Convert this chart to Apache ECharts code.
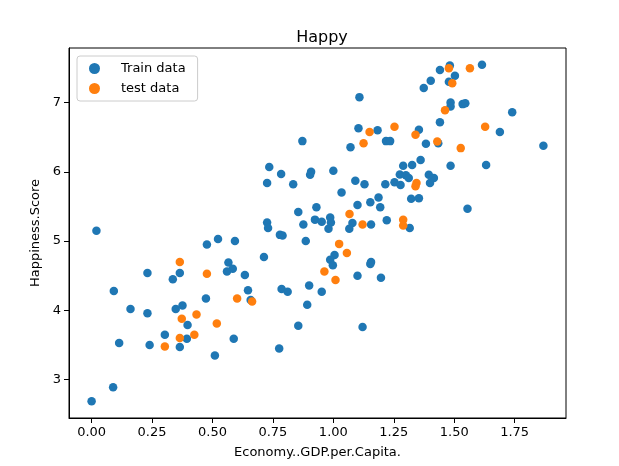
<!DOCTYPE html>
<html>
<head>
<meta charset="utf-8">
<script src="https://cdn.jsdelivr.net/npm/echarts@6/dist/echarts.min.js"></script>
<style>
html,body{margin:0;padding:0;background:#fff;}
#chart{width:619px;height:466px;}
</style>
</head>
<body>
<div id="chart"></div>
<script>
// Data
const trainGDP = [1.108,1.104,1.183,0.872,1.071,1.218,1.235,0.735,0.784,0.908,0.904,1.000,1.289,1.482,1.441,1.615,1.503,1.403,1.478,1.374,1.485,1.485,1.535,1.546,1.740,1.441,1.354,1.689,1.383,1.434,1.869,1.361,1.326,1.485,1.632,1.395,1.416,1.400,1.275,1.300,1.312,1.253,1.278,1.322,1.354,1.555,1.316,0.726,0.834,1.091,1.129,1.215,1.034,1.187,1.153,1.100,1.194,0.930,0.855,0.924,0.952,0.987,0.990,0.980,0.876,0.726,0.730,1.079,1.066,1.156,1.221,0.779,0.790,0.886,1.005,0.987,0.998,0.713,1.156,1.153,1.100,1.197,0.634,0.647,0.786,0.811,0.900,0.952,0.020,0.477,0.523,0.593,0.566,0.584,0.560,0.231,0.365,0.336,0.092,0.473,0.161,0.231,0.348,0.376,0.397,0.303,0.394,0.114,0.240,0.365,0.588,0.510,0.089,0.000,0.658,0.892,0.855,0.776,1.121];
const trainScore = [7.078,6.630,6.600,6.443,6.356,6.443,6.443,6.068,5.967,6.000,5.957,6.014,6.087,7.534,7.470,7.544,7.385,7.313,7.300,7.210,7.000,6.942,6.977,6.990,6.860,6.717,6.606,6.573,6.404,6.414,6.375,6.169,6.100,6.087,6.100,5.957,5.910,5.840,5.960,5.950,5.910,5.850,5.810,5.610,5.620,5.466,5.190,5.840,5.820,5.870,5.820,5.820,5.700,5.630,5.560,5.520,5.490,5.490,5.420,5.310,5.280,5.340,5.270,5.180,5.240,5.270,5.190,5.260,5.180,5.240,5.300,5.090,5.080,5.000,4.800,4.730,4.650,4.770,4.700,4.670,4.500,4.470,4.510,4.290,4.310,4.270,4.360,4.270,5.150,4.950,5.030,5.000,4.690,4.600,4.560,4.540,4.540,4.450,4.280,4.170,4.020,3.960,4.020,4.070,3.790,3.650,3.590,3.530,3.500,3.470,3.590,3.350,2.890,2.690,4.150,4.080,3.780,3.450,3.760];
const testGDP = [1.150,1.253,1.125,1.478,1.565,1.492,1.462,1.340,1.628,1.430,1.527,1.344,1.340,1.289,1.289,1.067,1.121,1.024,1.056,0.963,1.009,0.365,0.477,0.602,0.664,0.373,0.434,0.518,0.365,0.425,0.303];
const testScore = [6.573,6.650,6.414,7.496,7.496,7.280,6.890,6.534,6.650,6.437,6.342,5.840,5.790,5.307,5.225,5.390,5.240,4.960,4.830,4.560,4.440,4.700,4.530,4.170,4.130,3.880,3.940,3.810,3.600,3.650,3.480];
const xTicks = [0, 0.25, 0.5, 0.75, 1.0, 1.25, 1.5, 1.75];
const yTicks = [3, 4, 5, 6, 7];

const zip = (a, b) => a.map((v, i) => [v, b[i]]);
const font = 'DejaVu Sans';
const chart = echarts.init(document.getElementById('chart'), null, {renderer: 'canvas'});
chart.setOption({
  animation: false,
  backgroundColor: '#ffffff',
  title: {
    text: 'Happy', left: 317, top: 25, textAlign: 'center',
    textStyle: {fontFamily: font, fontSize: 16, fontWeight: 'normal', color: '#000'}
  },
  legend: {
    orient: 'vertical', left: 77, top: 56,
    padding: [6, 12, 6, 12], itemGap: 7,
    itemWidth: 11, itemHeight: 11,
    borderColor: '#cccccc', borderWidth: 1, borderRadius: 3,
    backgroundColor: 'rgba(255,255,255,0.8)',
    textStyle: {fontFamily: font, fontSize: 13, color: '#000', padding: [0, 0, 0, 16]},
    data: [{name: 'Train data', icon: 'circle'}, {name: 'test data', icon: 'circle'}]
  },
  grid: {left: 69, right: 53, top: 48, bottom: 48, show: true, borderColor: '#000', borderWidth: 1},
  xAxis: {
    type: 'value', min: -0.0935, max: 1.9625,
    name: 'Economy..GDP.per.Capita.', nameLocation: 'middle', nameGap: 28,
    nameTextStyle: {fontFamily: font, fontSize: 13, color: '#000'},
    splitLine: {show: false},
    axisLine: {show: true, onZero: false, lineStyle: {color: '#000'}},
    axisTick: {show: true, length: 5, lineStyle: {color: '#000'}, customValues: xTicks},
    axisLabel: {fontFamily: font, fontSize: 13, color: '#000', margin: 8, customValues: xTicks,
      formatter: v => v.toFixed(2)}
  },
  yAxis: {
    type: 'value', min: 2.447, max: 7.787,
    name: 'Happiness.Score', nameLocation: 'middle', nameGap: 24, nameRotate: 90,
    nameTextStyle: {fontFamily: font, fontSize: 13, color: '#000'},
    splitLine: {show: false},
    axisLine: {show: true, onZero: false, lineStyle: {color: '#000'}},
    axisTick: {show: true, length: 5, lineStyle: {color: '#000'}, customValues: yTicks},
    axisLabel: {fontFamily: font, fontSize: 13, color: '#000', margin: 8, customValues: yTicks,
      formatter: v => String(v)}
  },
  series: [
    {name: 'Train data', type: 'scatter', symbolSize: 8.5, data: zip(trainGDP, trainScore),
      itemStyle: {color: '#1f77b4', opacity: 1}, emphasis: {disabled: true}},
    {name: 'test data', type: 'scatter', symbolSize: 8.5, data: zip(testGDP, testScore),
      itemStyle: {color: '#ff7f0e', opacity: 1}, emphasis: {disabled: true}}
  ]
});
</script>
</body>
</html>
